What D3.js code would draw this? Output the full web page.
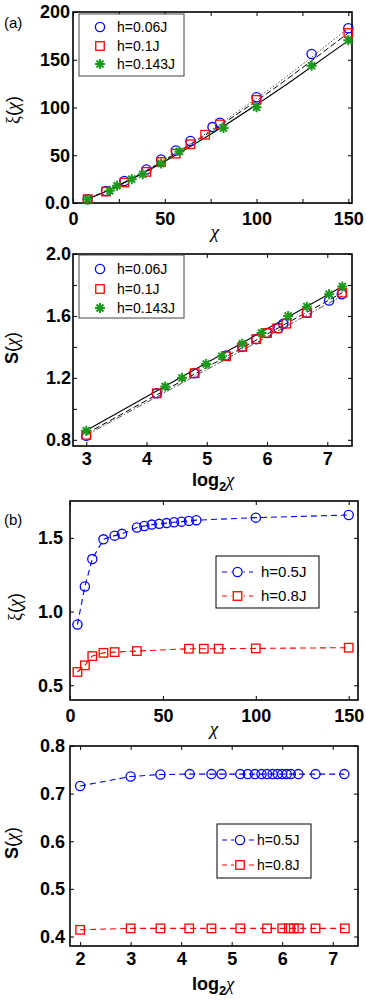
<!DOCTYPE html>
<html>
<head>
<meta charset="utf-8">
<script src="https://d3js.org/d3.v7.min.js"></script>
<style>
body { margin: 0; background: white; }
svg { display: block; }
.tick text { font-family: "Liberation Sans", Arial, sans-serif; font-weight: bold; }
</style>
</head>
<body>
<svg id="chart"></svg>
<script>
// ---- panel (a), top: xi(chi) vs chi ----
const chiA06 = [8, 18, 28, 40, 48, 56, 64, 76, 80, 100, 130, 150];
const xiA06 = [4, 12.5, 23, 35, 45.5, 55, 65, 79.5, 84, 110.7, 156, 183];
const chiA10 = [8, 18, 28, 40, 48, 56, 64, 72, 80, 100, 150];
const xiA10 = [4, 12, 21.5, 32.6, 43, 51.7, 61.5, 71.5, 82.3, 108, 178];
const chiA143 = [8, 20, 24, 32, 38, 48, 58, 82, 100, 130, 150];
const xiA143 = [4, 12.8, 18, 25, 30, 41.3, 54, 78.5, 100.3, 143.7, 170.5];
// fitted curves (black)
const fitChiA = [8, 20, 40, 60, 80, 100, 120, 150];
const fitXiA06 = [4.5, 14.3, 34.4, 57.5, 82.6, 109.6, 137.8, 183];
const fitXiA10 = [4.5, 14.2, 33.9, 56.5, 81, 107, 134.5, 178];
const fitXiA143 = [4.5, 14.0, 33.1, 54.7, 78, 103, 129, 170];

// ---- panel (a), bottom: S(chi) vs log2 chi ----
const logA06 = [3.0, 4.17, 4.79, 5.32, 5.59, 5.82, 6.0, 6.19, 6.27, 6.66, 7.03, 7.24];
const sA06 = [0.826, 1.10, 1.23, 1.344, 1.40, 1.45, 1.49, 1.52, 1.55, 1.62, 1.70, 1.74];
const logA10 = [3.0, 4.17, 4.8, 5.32, 5.59, 5.82, 6.0, 6.17, 6.32, 6.66, 7.25];
const sA10 = [0.832, 1.10, 1.23, 1.34, 1.40, 1.45, 1.49, 1.52, 1.55, 1.62, 1.75];
const logA143 = [3.0, 4.31, 4.59, 4.99, 5.25, 5.59, 5.91, 6.35, 6.66, 7.03, 7.25];
const sA143 = [0.858, 1.144, 1.20, 1.29, 1.34, 1.42, 1.49, 1.60, 1.66, 1.74, 1.79];
const fitLogA = [3, 7.25];
const fitSA06 = [0.83, 1.73];
const fitSA10 = [0.84, 1.75];
const fitSA143 = [0.86, 1.79];

// ---- panel (b), top: xi(chi) vs chi ----
const chiB05 = [4, 8, 12, 18, 24, 28, 36, 40, 44, 48, 52, 56, 60, 64, 68, 100, 150];
const xiB05 = [0.912, 1.17, 1.356, 1.49, 1.515, 1.527, 1.57, 1.58, 1.59, 1.595, 1.60, 1.606, 1.61, 1.615, 1.62, 1.637, 1.655];
const chiB08 = [4, 8, 12, 18, 24, 36, 64, 72, 80, 100, 150];
const xiB08 = [0.59, 0.635, 0.698, 0.72, 0.725, 0.732, 0.748, 0.748, 0.748, 0.75, 0.755];

// ---- panel (b), bottom: S(chi) vs log2 chi ----
const logB05 = [2, 3, 3.59, 4.17, 4.6, 4.8, 5.17, 5.32, 5.46, 5.59, 5.7, 5.81, 5.91, 6.0, 6.09, 6.17, 6.32, 6.66, 7.23];
const sB05 = [0.716, 0.736, 0.740, 0.741, 0.741, 0.741, 0.741, 0.741, 0.741, 0.741, 0.741, 0.741, 0.741, 0.741, 0.741, 0.741, 0.741, 0.741, 0.741];
const logB08 = [2, 3, 3.59, 4.16, 4.6, 5.17, 5.7, 6.0, 6.13, 6.23, 6.33, 6.66, 7.24];
const sB08 = [0.414, 0.417, 0.417, 0.417, 0.417, 0.417, 0.417, 0.417, 0.417, 0.417, 0.417, 0.417, 0.417];

const labelsA = ["h=0.06J", "h=0.1J", "h=0.143J"];
const labelsB = ["h=0.5J", "h=0.8J"];

const blue = "#0000ff", red = "#ff0000", green = "#1a9a1a";
const tickFont = 18;
const svg = d3.select("#chart").attr("width", 366).attr("height", 1001);

function zip(xs, ys) { return xs.map((v, i) => [v, ys[i]]); }

function drawAxes(p) {
  const g = svg.append("g");
  const x = d3.scaleLinear().domain(p.xDom).range([p.left, p.right]);
  const y = d3.scaleLinear().domain(p.yDom).range([p.bottom, p.top]);

  g.append("g").attr("transform", "translate(0," + p.bottom + ")")
    .call(d3.axisBottom(x).tickValues(p.xTicks).tickSize(-4).tickSizeOuter(0).tickPadding(p.padB)
      .tickFormat(d => p.xLabels.includes(d) ? d : ""));
  g.append("g").attr("transform", "translate(0," + p.top + ")")
    .call(d3.axisTop(x).tickValues(p.xTicks).tickSize(-4).tickSizeOuter(0).tickFormat(""));
  g.append("g").attr("transform", "translate(" + p.left + ",0)")
    .call(d3.axisLeft(y).tickValues(p.yTicks).tickSize(-4).tickSizeOuter(0).tickPadding(p.padL)
      .tickFormat(d => p.yLabels.some(v => Math.abs(v - d) < 1e-9) ? p.yFmt(d) : ""));
  g.append("g").attr("transform", "translate(" + p.right + ",0)")
    .call(d3.axisRight(y).tickValues(p.yTicks).tickSize(-4).tickSizeOuter(0).tickFormat(""));
  g.selectAll(".domain").remove();
  g.selectAll(".tick line").attr("stroke", "black").attr("stroke-width", 1);
  g.selectAll(".tick text").attr("font-size", tickFont).attr("fill", "black");

  g.append("rect").attr("x", p.left).attr("y", p.top)
    .attr("width", p.right - p.left).attr("height", p.bottom - p.top)
    .attr("fill", "none").attr("stroke", "black").attr("stroke-width", 1.6);
  return {g: g, x: x, y: y};
}

function drawLine(ax, pts, color, dash, width, curve) {
  ax.g.append("path").datum(pts)
    .attr("d", d3.line().x(d => ax.x(d[0])).y(d => ax.y(d[1])).curve(curve || d3.curveLinear))
    .attr("fill", "none").attr("stroke", color).attr("stroke-width", width)
    .attr("stroke-dasharray", dash);
}

function circleAt(g, cx, cy, color, r) {
  g.append("circle").attr("cx", cx).attr("cy", cy).attr("r", r)
    .attr("fill", "none").attr("stroke", color).attr("stroke-width", 1.3);
}
function squareAt(g, cx, cy, color, s) {
  g.append("rect").attr("x", cx - s / 2).attr("y", cy - s / 2).attr("width", s).attr("height", s)
    .attr("fill", "none").attr("stroke", color).attr("stroke-width", 1.3);
}
function starAt(g, cx, cy, color, s) {
  const d = s * 0.7;
  const path = "M" + (cx - s) + "," + cy + "H" + (cx + s) +
    "M" + cx + "," + (cy - s) + "V" + (cy + s) +
    "M" + (cx - d) + "," + (cy - d) + "L" + (cx + d) + "," + (cy + d) +
    "M" + (cx - d) + "," + (cy + d) + "L" + (cx + d) + "," + (cy - d);
  g.append("path").attr("d", path).attr("stroke", color).attr("stroke-width", 2).attr("fill", "none");
}

function drawMarks(ax, pts, kind, color) {
  pts.forEach(d => {
    const cx = ax.x(d[0]), cy = ax.y(d[1]);
    if (kind == "o") circleAt(ax.g, cx, cy, color, 4.6);
    else if (kind == "s") squareAt(ax.g, cx, cy, color, 8.5);
    else starAt(ax.g, cx, cy, color, 5);
  });
}

function legendA(box, rows) {
  const g = svg.append("g");
  g.append("rect").attr("x", box[0]).attr("y", box[1]).attr("width", box[2]).attr("height", box[3])
    .attr("fill", "white").attr("stroke", "#444").attr("stroke-width", 1);
  const kinds = ["o", "s", "*"], colors = [blue, red, green];
  rows.forEach((ry, i) => {
    if (kinds[i] == "o") circleAt(g, 100, ry, colors[i], 4.6);
    else if (kinds[i] == "s") squareAt(g, 100, ry, colors[i], 8.5);
    else starAt(g, 100, ry, colors[i], 5);
    g.append("text").attr("x", 117).attr("y", ry).attr("dy", "0.36em")
      .style("font-family", "Liberation Sans, Arial, sans-serif").style("font-size", "14px")
      .text(labelsA[i]);
  });
}

function legendB(box, rows, x1, x2, tx, fs) {
  const g = svg.append("g");
  g.append("rect").attr("x", box[0]).attr("y", box[1]).attr("width", box[2]).attr("height", box[3])
    .attr("fill", "white").attr("stroke", "black").attr("stroke-width", 1);
  const kinds = ["o", "s"], colors = [blue, red];
  rows.forEach((ry, i) => {
    g.append("line").attr("x1", x1).attr("x2", x2).attr("y1", ry).attr("y2", ry)
      .attr("stroke", colors[i]).attr("stroke-width", 1.2).attr("stroke-dasharray", "5,4");
    const cx = (x1 + x2) / 2;
    g.append("rect").attr("x", cx - 6).attr("y", ry - 6).attr("width", 12).attr("height", 12).attr("fill", "white");
    if (kinds[i] == "o") circleAt(g, cx, ry, colors[i], 4.6);
    else squareAt(g, cx, ry, colors[i], 8.5);
    g.append("text").attr("x", tx).attr("y", ry).attr("dy", "0.36em")
      .style("font-family", "Liberation Sans, Arial, sans-serif").style("font-size", fs + "px")
      .text(labelsB[i]);
  });
}

function chiText(sel) {
  sel.append("tspan").style("font-family", "Liberation Serif, serif").style("font-style", "italic").text("χ");
}

function yTitle(cx, cy, first, bold) {
  const t = svg.append("text").attr("transform", "translate(" + cx + "," + cy + ") rotate(-90)")
    .attr("text-anchor", "middle").attr("dy", "0.35em")
    .style("font-family", "Liberation Sans, Arial, sans-serif").style("font-size", "18px");
  if (first == "ξ") t.append("tspan").style("font-family", "Liberation Serif, serif").text("ξ");
  else t.append("tspan").style("font-weight", bold ? "bold" : "normal").text(first);
  t.append("tspan").text("(");
  chiText(t);
  t.append("tspan").text(")");
}

function xTitleChi(cx, y) {
  const t = svg.append("text").attr("x", cx).attr("y", y).attr("text-anchor", "middle")
    .style("font-size", "19px");
  chiText(t);
}

function xTitleLog(cx, y) {
  const t = svg.append("text").attr("x", cx).attr("y", y).attr("text-anchor", "middle")
    .style("font-family", "Liberation Sans, Arial, sans-serif").style("font-size", "18px").style("font-weight", "bold");
  t.append("tspan").text("log");
  t.append("tspan").attr("dy", 5).style("font-size", "13px").text("2");
  t.append("tspan").attr("dy", -5).style("font-weight", "normal");
  chiText(t.select("tspan:last-child"));
}

// ---------- panel (a) top ----------
const a1 = drawAxes({left: 73, right: 352, top: 12, bottom: 203, xDom: [0, 152], yDom: [0, 200],
  xTicks: [0, 25, 50, 75, 100, 125, 150], xLabels: [0, 50, 100, 150],
  yTicks: [0, 50, 100, 150, 200], yLabels: [0, 50, 100, 150, 200],
  yFmt: d => d === 0 ? "0.0" : d, padL: 3, padB: 9});
drawLine(a1, zip(fitChiA, fitXiA06), "#555", "1.5,2", 1, d3.curveNatural);
drawLine(a1, zip(fitChiA, fitXiA10), "black", "6,3", 1, d3.curveNatural);
drawLine(a1, zip(fitChiA, fitXiA143), "black", null, 1.1, d3.curveNatural);
drawMarks(a1, zip(chiA06, xiA06), "o", blue);
drawMarks(a1, zip(chiA10, xiA10), "s", red);
drawMarks(a1, zip(chiA143, xiA143), "*", green);
legendA([79, 14, 105, 62], [27, 46, 64]);
yTitle(13, 110, "ξ", false);
xTitleChi(215, 238);
svg.append("text").attr("x", 4).attr("y", 28).style("font-family", "Liberation Sans, Arial, sans-serif")
  .style("font-size", "15px").text("(a)");

// ---------- panel (a) bottom ----------
const a2 = drawAxes({left: 73, right: 352, top: 254, bottom: 446, xDom: [2.78, 7.41], yDom: [0.76, 2.0],
  xTicks: [3, 4, 5, 6, 7], xLabels: [3, 4, 5, 6, 7],
  yTicks: [0.8, 1.0, 1.2, 1.4, 1.6, 1.8, 2.0], yLabels: [0.8, 1.2, 1.6, 2.0],
  yFmt: d3.format(".1f"), padL: 2, padB: 6});
drawLine(a2, zip(fitLogA, fitSA06), "#555", "6,2,1.5,2", 1);
drawLine(a2, zip(fitLogA, fitSA10), "black", "6,3", 1);
drawLine(a2, zip(fitLogA, fitSA143), "black", null, 1.1);
drawMarks(a2, zip(logA06, sA06), "o", blue);
drawMarks(a2, zip(logA10, sA10), "s", red);
drawMarks(a2, zip(logA143, sA143), "*", green);
legendA([79, 255, 105, 63], [269, 289, 308]);
yTitle(12, 348, "S", true);
xTitleLog(213, 486);

// ---------- panel (b) top ----------
const b1 = drawAxes({left: 70, right: 358, top: 501, bottom: 700, xDom: [0, 155], yDom: [0.4, 1.75],
  xTicks: [0, 50, 100, 150], xLabels: [0, 50, 100, 150],
  yTicks: [0.5, 1.0, 1.5], yLabels: [0.5, 1.0, 1.5],
  yFmt: d3.format(".1f"), padL: 7, padB: 9});
drawLine(b1, zip(chiB05, xiB05), blue, "6,4", 1.1);
drawLine(b1, zip(chiB08, xiB08), red, "6,4", 1.1);
drawMarks(b1, zip(chiB05, xiB05), "o", blue);
drawMarks(b1, zip(chiB08, xiB08), "s", red);
legendB([216, 556, 103, 52], [572, 596], 222, 253, 261, 15);
yTitle(15, 607, "ξ", false);
xTitleChi(214, 735);
svg.append("text").attr("x", 4).attr("y", 525).style("font-family", "Liberation Sans, Arial, sans-serif")
  .style("font-size", "15px").text("(b)");

// ---------- panel (b) bottom ----------
const b2 = drawAxes({left: 70, right: 358, top: 746, bottom: 946, xDom: [1.8, 7.5], yDom: [0.38, 0.8],
  xTicks: [2, 3, 4, 5, 6, 7], xLabels: [2, 3, 4, 5, 6, 7],
  yTicks: [0.4, 0.5, 0.6, 0.7, 0.8], yLabels: [0.4, 0.5, 0.6, 0.7, 0.8],
  yFmt: d3.format(".1f"), padL: 5, padB: 6});
drawLine(b2, zip(logB05, sB05), blue, "6,4", 1.1);
drawLine(b2, zip(logB08, sB08), red, "6,4", 1.1);
drawMarks(b2, zip(logB05, sB05), "o", blue);
drawMarks(b2, zip(logB08, sB08), "s", red);
legendB([217, 824, 94, 54], [840, 865], 222, 258, 257, 14);
yTitle(12, 843, "S", true);
xTitleLog(213, 990);
</script>
</body>
</html>
